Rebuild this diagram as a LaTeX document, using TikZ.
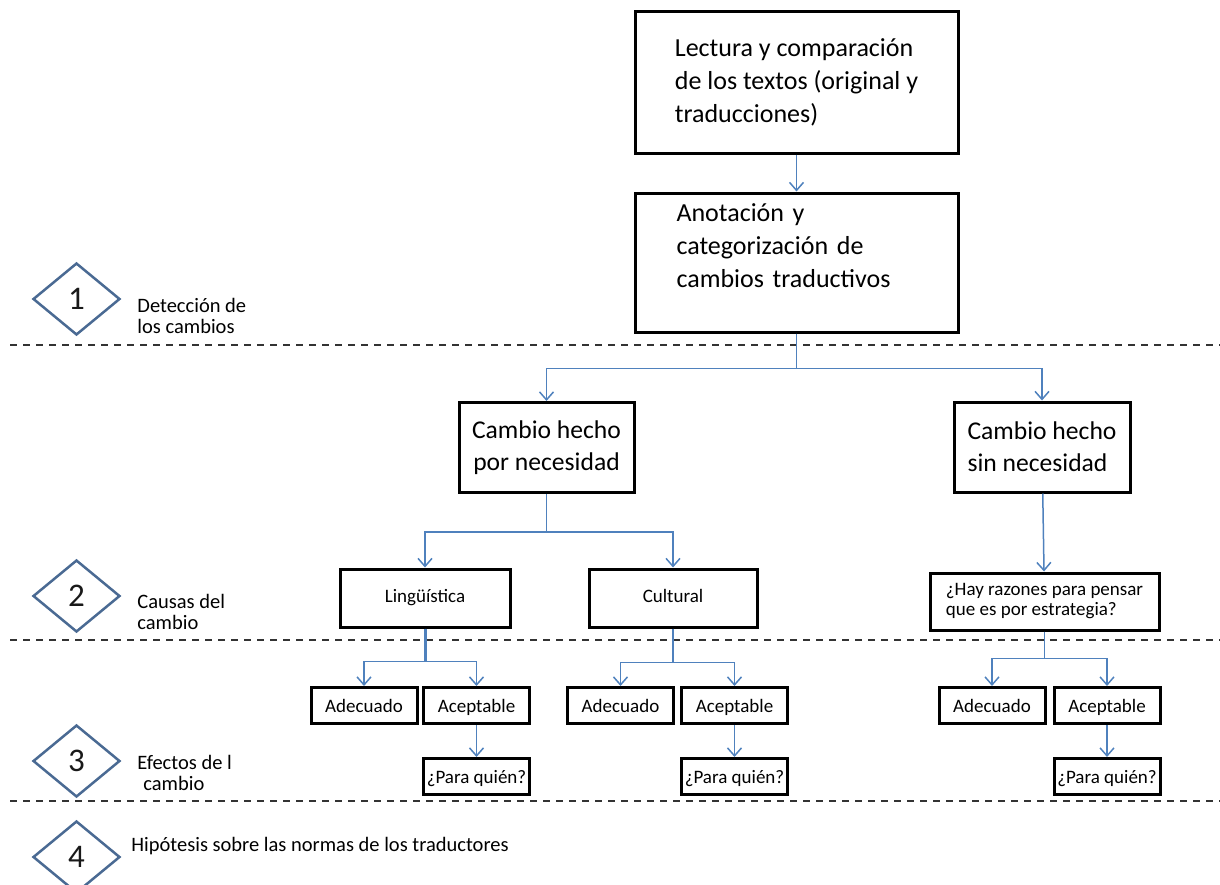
\documentclass[tikz,border=0pt]{standalone}
\usepackage{fontspec}
\setmainfont{Carlito}
\usetikzlibrary{shapes.geometric,arrows.meta,positioning}
\definecolor{linkblue}{RGB}{79,129,189}
\definecolor{phaseblue}{RGB}{74,106,147}
\tikzset{
  box/.style={draw, line width=1.5pt, inner sep=0pt},
  bigbox/.style={box, align=left, font=\fontsize{13}{16.5}\selectfont},
  midbox/.style={box, font=\fontsize{12.8}{16}\selectfont, minimum width=88pt, minimum height=45pt},
  smallbox/.style={box, font=\fontsize{9.5}{10}\selectfont},
  oneline/.style={text height=7pt, text depth=2.2pt},
  leafbox/.style={smallbox, text height=8pt, text depth=1pt, minimum width=53pt, minimum height=18pt},
  phase/.style={diamond, draw=phaseblue, line width=1.25pt, minimum width=43.5pt, minimum height=36pt, inner sep=0pt, font=\fontsize{16.5}{16.5}\selectfont, text=black!90},
  phaselabel/.style={anchor=west, align=left, inner sep=0pt, font=\fontsize{10.25}{10.75}\selectfont},
  link/.style={draw=linkblue, line width=0.75pt},
  arr/.style={link, -{Straight Barb[length=4pt,width=7pt]}},
  sep/.style={dash pattern=on 3.5pt off 3pt, line width=0.65pt, black!80}
}
\begin{document}
\begin{tikzpicture}[x=0.5pt,y=-0.5pt]
  \useasboundingbox (0,0) rectangle (1220,884);
  % separadores de fases
  \foreach \y in {345,640,801}
    \draw[sep] (10,\y) -- (1220,\y);
  % fases
  \foreach \n/\y in {1/299,2/596,3/761,4/857}
    \node (ph\n) [phase] at (76.5,\y) {\n};
  \node (lab1) [phaselabel] at (137,316) {Detección de\\los cambios};
  \node (lab2) [phaselabel] at (137,612) {Causas del\\cambio};
  \node (lab3) [phaselabel] at (137,773) {Efectos de l\\\hspace*{3pt}cambio};
  \node (lab4) [phaselabel] at (131,846) {Hipótesis sobre las normas de los traductores};

  % cajas
  \node (lect) [bigbox, minimum width=161.5pt, minimum height=71pt] at (796.5,82)
    {Lectura y comparación\\de los textos (original y\\traducciones)};
  \node (anot) [bigbox, text width=120pt, minimum width=161.5pt, minimum height=69.5pt] at (796.5,262.5)
    {Anotación y\\categorización de\\cambios traductivos\\\mbox{}};
  \node (nec)  [midbox, align=center, minimum width=87.5pt] at (546.5,447.5) {Cambio hecho\\por necesidad};
  \node (sin)  [midbox, align=left] at (1042,447) {Cambio hecho\\sin necesidad};
  \node (ling) [smallbox, oneline, minimum width=85pt, minimum height=29pt] at (425,598) {Lingüística};
  \node (cult) [smallbox, oneline, minimum width=84pt, minimum height=29pt] at (673,598) {Cultural};
  \node (hay)  [smallbox, align=left, minimum width=114.5pt, minimum height=28.5pt] at (1044.5,601.5)
    {¿Hay razones para pensar\\que es por estrategia?};
  \node (ade1)  [leafbox] at (364,705.5)   {Adecuado};
  \node (acep1) [leafbox] at (476.5,705.5) {Aceptable};
  \node (ade2)  [leafbox] at (620.5,705.5) {Adecuado};
  \node (acep2) [leafbox] at (734.5,705.5) {Aceptable};
  \node (ade3)  [leafbox] at (992,705.5)   {Adecuado};
  \node (acep3) [leafbox] at (1107,705.5)  {Aceptable};
  \node (para1) [leafbox, below=16pt of acep1] {¿Para quién?};
  \node (para2) [leafbox, below=16pt of acep2] {¿Para quién?};
  \node (para3) [leafbox, below=16pt of acep3] {¿Para quién?};

  % conexiones
  \draw[link, line width=1.5pt] (ling.south) -- ++(0,33);
  \foreach \from/\to/\d in
  {anot/nec/35, anot/sin/35, nec/ling/38, nec/cult/38, ling/ade1/33, ling/acep1/33,
   cult/ade2/34, cult/acep2/34, hay/ade3/27, hay/acep3/27}
    \draw[arr] (\from.south) -- ++(0,\d) -| (\to.north);
  \foreach \from/\to in
  {lect/anot, sin/hay, acep1/para1, acep2/para2, acep3/para3}
    \draw[arr] (\from) -- (\to);
\end{tikzpicture}
\end{document}
